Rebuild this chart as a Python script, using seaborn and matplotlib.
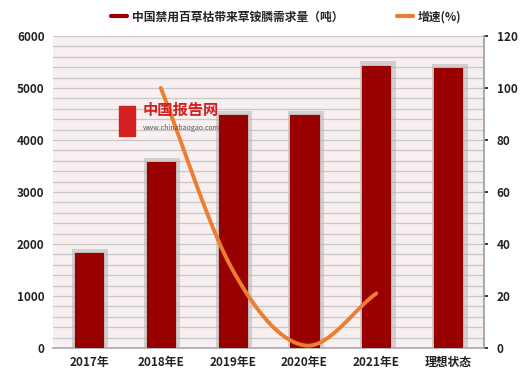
import numpy as np
import pandas as pd
import matplotlib
matplotlib.use("Agg")
import matplotlib.pyplot as plt
import seaborn as sns

categories = ["2017年", "2018年E", "2019年E", "2020年E", "2021年E", "理想状态"]
demand = [1850, 3600, 4500, 4500, 5450, 5400]
growth_cats = ["2018年E", "2019年E", "2020年E", "2021年E"]
growth = [100, 30, 1, 21]
left_ticks = [0, 1000, 2000, 3000, 4000, 5000, 6000]
right_ticks = [0, 20, 40, 60, 80, 100, 120]

sns.set_theme(style="white")
plt.rcParams['font.family'] = ['Noto Sans CJK SC', 'DejaVu Sans']

fig = plt.figure(figsize=(5.2, 3.77), dpi=100)
ax = fig.add_axes([0.102, 0.077, 0.829, 0.8275])
ax.set_facecolor("#F8F0F0")

df = pd.DataFrame({"cat": categories, "v": demand})

# shadow bars
xs = np.arange(len(categories))
for i, v in enumerate(demand):
    ax.bar(i + 0.02, v + 60, width=0.5, color="#B0B0B0", alpha=0.5, zorder=2, linewidth=0)
sns.barplot(data=df, x="cat", y="v", color="#990000", width=0.42, saturation=1,
            ax=ax, zorder=3, edgecolor="#C8C8C8", linewidth=0.6)

ax.set_ylim(0, 6000)
ax.set_xlim(-0.5, 5.5)
ax.set_yticks(left_ticks)
for y in range(200, 6001, 200):
    ax.axhline(y, color="#C8C8C8", lw=0.9, zorder=1)
ax.set_xlabel("")
ax.set_ylabel("")
ax.tick_params(axis="both", labelsize=8.5, colors="#222222", length=0, pad=6)
for lbl in ax.get_xticklabels() + ax.get_yticklabels():
    lbl.set_fontweight("bold")
for s in ["top", "left"]:
    ax.spines[s].set_visible(False)
ax.spines["bottom"].set_color("#AAAAAA")
ax.spines["right"].set_color("#AAAAAA")

# smoothed growth line (Catmull-Rom through data points)
gx = np.array([categories.index(c) for c in growth_cats], dtype=float)
gy = np.array(growth, dtype=float)
px = np.concatenate([[2 * gx[0] - gx[1]], gx, [2 * gx[-1] - gx[-2]]])
py = np.concatenate([[2 * gy[0] - gy[1]], gy, [2 * gy[-1] - gy[-2]]])
sx, sy = [], []
t = np.linspace(0, 1, 40)
for i in range(1, len(px) - 2):
    p0, p1, p2, p3 = [np.array([px[j], py[j]]) for j in (i - 1, i, i + 1, i + 2)]
    m1 = (p2 - p0) / 2
    m2 = (p3 - p1) / 2
    h00 = 2 * t**3 - 3 * t**2 + 1
    h10 = t**3 - 2 * t**2 + t
    h01 = -2 * t**3 + 3 * t**2
    h11 = t**3 - t**2
    pts = np.outer(h00, p1) + np.outer(h10, m1) + np.outer(h01, p2) + np.outer(h11, m2)
    sx.extend(pts[:, 0]); sy.extend(pts[:, 1])

ax2 = ax.twinx()
sns.lineplot(x=sx, y=sy, ax=ax2, color="#ED7D31", lw=2.8, sort=False, zorder=5)
ax2.set_ylim(0, 120)
ax2.set_yticks(right_ticks)
ax2.tick_params(axis="y", labelsize=8.5, colors="#222222", length=3, pad=6)
for lbl in ax2.get_yticklabels():
    lbl.set_fontweight("bold")
for s in ["top", "left", "bottom"]:
    ax2.spines[s].set_visible(False)
ax2.spines["right"].set_color("#AAAAAA")
ax2.grid(False)

# watermark
fig.text(0.275, 0.695, "中国报告网", color="#D42020", fontsize=11, fontweight="bold", zorder=10)
fig.text(0.275, 0.655, "www.chinabaogao.com", color="#555555", fontsize=5, zorder=10)
fig.patches.append(plt.Rectangle((0.228, 0.64), 0.032, 0.08, transform=fig.transFigure,
                                 color="#D42020", zorder=10))

# legend
from matplotlib.lines import Line2D
handles = [Line2D([0], [0], color="#990000", lw=3),
           Line2D([0], [0], color="#ED7D31", lw=3)]
fig.legend(handles, ["中国禁用百草枯带来草铵膦需求量（吨）", "增速(%)"], loc="center",
           bbox_to_anchor=(0.55, 0.955), ncol=2, frameon=False, fontsize=8.5,
           handlelength=1.4, columnspacing=4.5, handletextpad=0.4,
           prop={"weight": "bold", "size": 8.5})

fig.savefig("out.png", dpi=100)
